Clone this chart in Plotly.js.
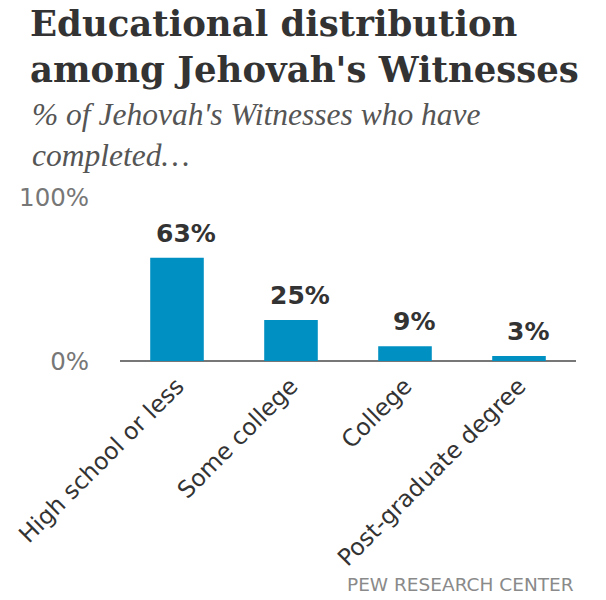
<!DOCTYPE html>
<html>
<head>
<meta charset="utf-8">
<script src="https://cdn.plot.ly/plotly-3.0.1.min.js"></script>
<style>
html,body{margin:0;padding:0;background:#fff;}
#chart{width:606px;height:600px;}
</style>
</head>
<body>
<div id="chart"></div>
<script>
var categories = ["High school or less", "Some college", "College", "Post-graduate degree"];
var values = [63, 25, 9, 3];
var yTickVals = [0, 100];
var yTickText = ["0%", "100%"];
var titleText = "Educational distribution<br>among Jehovah's Witnesses";
var subtitleText = "% of Jehovah's Witnesses who have<br>completed\u2026";
var sourceText = "PEW RESEARCH CENTER";

var trace = {
  type: 'bar',
  x: categories,
  y: values,
  marker: {color: '#0091c2'},
  hoverinfo: 'x+y',
  showlegend: false
};

var valueLabels = categories.map(function (c, i) {
  return {
    x: c, y: values[i], xref: 'x', yref: 'y',
    text: values[i] + '%',
    showarrow: false,
    xanchor: 'center', yanchor: 'bottom',
    xshift: 9, yshift: 8,
    font: {family: 'DejaVu Sans', size: 25, color: '#333333', weight: 'bold'}
  };
});

var layout = {
  width: 606, height: 600,
  paper_bgcolor: '#ffffff', plot_bgcolor: '#ffffff',
  margin: {l: 120, r: 30, t: 197, b: 239, pad: 0},
  bargap: 0.53,
  font: {family: 'DejaVu Sans', color: '#333333'},
  title: {
    text: titleText,
    x: 30 / 606, xanchor: 'left', xref: 'container',
    y: 1 - 36 / 600, yanchor: 'top', yref: 'container',
    font: {family: 'DejaVu Serif', size: 35.5, color: '#333333', weight: 'bold'}
  },
  xaxis: {
    type: 'category',
    tickangle: -45,
    tickfont: {family: 'DejaVu Sans', size: 23.5, color: '#333333'},
    showgrid: false, zeroline: false, showline: false,
    ticks: 'outside', ticklen: 1, tickcolor: 'rgba(0,0,0,0)',
    fixedrange: true
  },
  yaxis: {
    range: [0, 100],
    tickmode: 'array', tickvals: yTickVals, ticktext: yTickText,
    tickfont: {family: 'DejaVu Sans', size: 24.5, color: '#777777'},
    ticks: 'outside', ticklen: 25, tickcolor: 'rgba(0,0,0,0)',
    showgrid: true, gridcolor: '#b0b0b0', gridwidth: 1.5, griddash: '2px,6px',
    zeroline: true, zerolinecolor: '#777777', zerolinewidth: 2,
    showline: false, fixedrange: true
  },
  annotations: [
    {
      text: subtitleText, showarrow: false,
      xref: 'paper', yref: 'paper',
      x: (30 - 120) / 456, y: (361 - 95) / 164,
      xanchor: 'left', yanchor: 'top', align: 'left',
      font: {family: 'Liberation Serif', size: 31.5, color: '#555555', style: 'italic'}
    },
    {
      text: sourceText, showarrow: false,
      xref: 'paper', yref: 'paper',
      x: 1, y: (361 - 572) / 164,
      xanchor: 'right', yanchor: 'top', align: 'right',
      font: {family: 'DejaVu Sans', size: 18.5, color: '#8a8a8a'}
    }
  ].concat(valueLabels)
};

Plotly.newPlot('chart', [trace], layout, {displayModeBar: false, staticPlot: true});
</script>
</body>
</html>
